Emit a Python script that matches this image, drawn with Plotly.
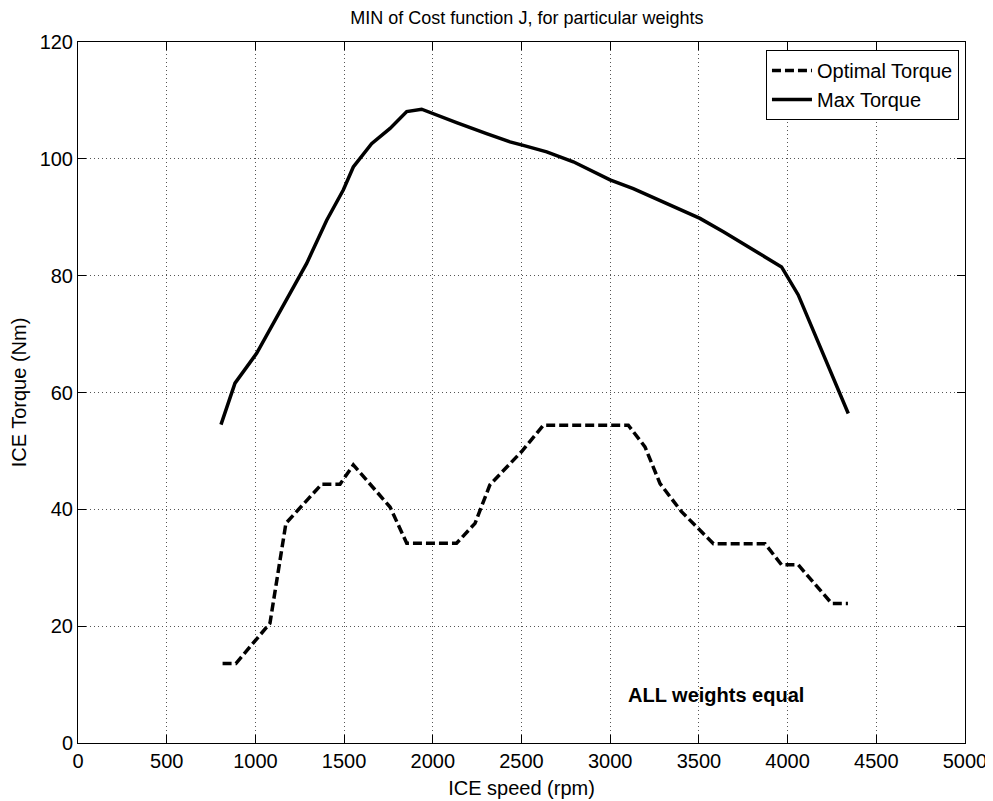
import plotly.graph_objects as go

# Optimal torque (dashed)
opt_speed = [815, 890, 1082, 1172, 1373, 1477, 1552, 1759, 1853, 2134, 2238, 2322,
             2501, 2623, 3102, 3196, 3281, 3402, 3582, 3873, 3966, 4060, 4248, 4340]
opt_torque = [13.6, 13.6, 20.5, 37.6, 44.3, 44.3, 47.6, 40.4, 34.2, 34.2, 37.6, 44.2,
              49.9, 54.4, 54.4, 50.7, 44.4, 39.6, 34.1, 34.1, 30.5, 30.5, 23.9, 23.9]

# Max torque curve (solid)
max_speed = [806, 885, 1007, 1176, 1289, 1402, 1496, 1552, 1655, 1759, 1853, 1937,
             2041, 2134, 2303, 2435, 2510, 2642, 2792, 2999, 3130, 3506, 3638, 3966,
             4060, 4342]
max_torque = [54.5, 61.6, 66.7, 75.8, 82.1, 89.5, 94.7, 98.6, 102.6, 105.2, 108.1, 108.5,
              107.2, 106.2, 104.3, 102.9, 102.3, 101.2, 99.5, 96.4, 94.9, 89.8, 87.5, 81.5,
              76.7, 56.4]

x_ticks = [0, 500, 1000, 1500, 2000, 2500, 3000, 3500, 4000, 4500, 5000]
y_ticks = [0, 20, 40, 60, 80, 100, 120]

font = "Liberation Sans, Arial, Helvetica, sans-serif"

fig = go.Figure()
fig.add_trace(go.Scatter(x=opt_speed, y=opt_torque, mode="lines", name="Optimal Torque",
                         line=dict(color="black", width=3.5, dash="9px,4px")))
fig.add_trace(go.Scatter(x=max_speed, y=max_torque, mode="lines", name="Max Torque",
                         line=dict(color="black", width=3.5)))

axis_style = dict(showline=True, linecolor="black", linewidth=1, mirror="ticks",
                  ticks="inside", ticklen=8, tickcolor="black", tickwidth=1,
                  showgrid=True, gridcolor="#555555", griddash="1px,3px", gridwidth=1,
                  zeroline=False, automargin=False, tickfont=dict(size=20, color="black"))

fig.update_xaxes(range=[0, 5000], tickvals=x_ticks,
                 title=dict(text="ICE speed (rpm)", font=dict(size=20, color="black"), standoff=9),
                 **axis_style)
fig.update_yaxes(range=[0, 120], tickvals=y_ticks,
                 title=dict(text="ICE Torque (Nm)", font=dict(size=20, color="black"), standoff=8),
                 **axis_style)

fig.add_annotation(x=3089, y=8.2, xref="x", yref="y", xanchor="left", yanchor="middle",
                   text="<b>ALL weights equal</b>", showarrow=False,
                   font=dict(size=20, color="black"))

# page body adds an 8px offset, so the figure is 8px smaller and margins shifted
fig.update_layout(
    width=985, height=793, autosize=False,
    margin=dict(l=70, r=28, t=34, b=58),
    paper_bgcolor="white", plot_bgcolor="white",
    font=dict(family=font, color="black"),
    title=dict(text="MIN of Cost function J, for particular weights", x=0.5268,
               xanchor="center", y=0.996, yanchor="top", pad=dict(t=0, b=0),
               font=dict(size=18)),
    legend=dict(x=0.9932, y=0.9886, xanchor="right", yanchor="top",
                bordercolor="black", borderwidth=1, bgcolor="white",
                font=dict(size=20), tracegroupgap=0, itemwidth=40,
                entrywidth=218, entrywidthmode="pixels"),
)

fig.write_html("out.html")
